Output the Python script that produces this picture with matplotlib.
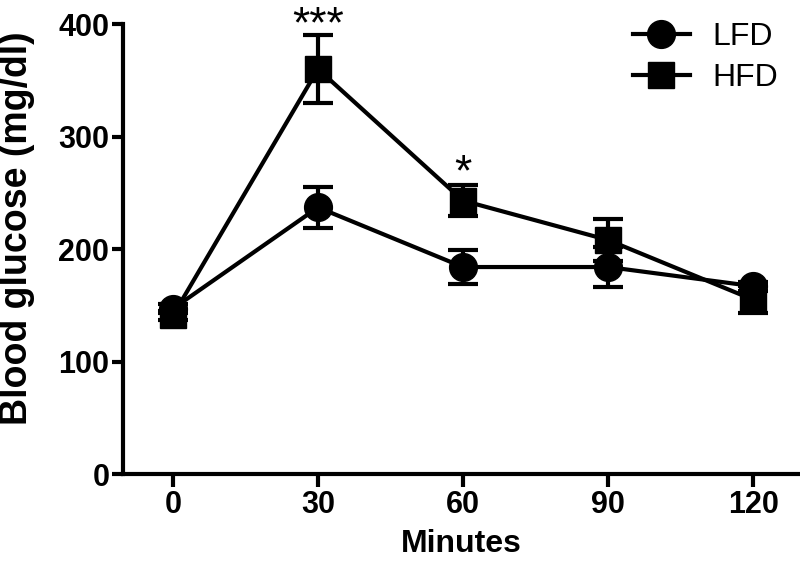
import matplotlib.pyplot as plt
from matplotlib.lines import Line2D

minutes = [0, 30, 60, 90, 120]
lfd_mean = [147, 237, 184, 184, 167]
lfd_err = [4, 18, 15, 18, 4]
hfd_mean = [141, 360, 243, 208, 155]
hfd_err = [4, 30, 14, 19, 12]
stars = ['***', '*']
star_x = [30, 60]
star_y = [388, 257]

plt.rcParams['font.family'] = ['Liberation Sans', 'DejaVu Sans']

fig = plt.figure(figsize=(8, 5.65), dpi=100)
ax = fig.add_axes([0.154, 0.161, 0.846, 0.7965])

ax.errorbar(minutes, hfd_mean, yerr=hfd_err, color='black', marker='s', markersize=19,
            linewidth=3, elinewidth=3, capsize=10.5, capthick=3, zorder=3)
ax.errorbar(minutes, lfd_mean, yerr=lfd_err, color='black', marker='o', markersize=20,
            linewidth=3, elinewidth=3, capsize=10.5, capthick=3, zorder=3)

for s, x, y in zip(stars, star_x, star_y):
    ax.text(x, y, s, ha='center', va='baseline', fontsize=32)

ax.set_xlim(-10.3, 129.7)
ax.set_ylim(0, 400)
ax.set_xticks(minutes)
ax.set_yticks([0, 100, 200, 300, 400])
ax.spines['top'].set_visible(False)
ax.spines['right'].set_visible(False)
ax.spines['left'].set_linewidth(3)
ax.spines['bottom'].set_linewidth(3)
ax.tick_params(axis='x', width=3, length=9.5, labelsize=22, pad=2)
ax.tick_params(axis='y', width=3, length=8, labelsize=22, pad=2)
for lab in ax.get_xticklabels() + ax.get_yticklabels():
    lab.set_fontweight('bold')

ax.set_xlabel('Minutes', fontsize=23, fontweight='bold')
ax.xaxis.set_label_coords(0.5, -0.122)
ax.set_ylabel('Blood glucose (mg/dl)', fontsize=27, fontweight='bold')
ax.yaxis.set_label_coords(-0.13, 0.547)

handles = [Line2D([], [], color='black', lw=3, marker='o', markersize=20),
           Line2D([], [], color='black', lw=3, marker='s', markersize=19)]
ax.legend(handles, ['LFD', 'HFD'], loc='upper left', bbox_to_anchor=(633 / 800, 1 - 22 / 565),
          bbox_transform=fig.transFigure, frameon=False, fontsize=23, handlelength=1.78,
          handletextpad=0.72, labelspacing=0.35, borderpad=0, borderaxespad=0)

fig.savefig('out.png', dpi=100)
